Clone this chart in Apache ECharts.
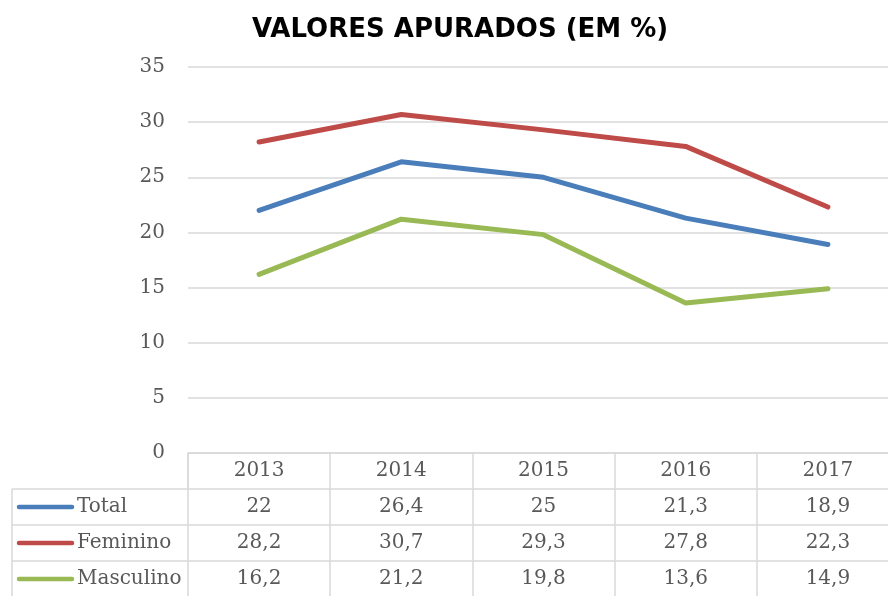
<!DOCTYPE html>
<html>
<head>
<meta charset="utf-8">
<script src="https://cdn.jsdelivr.net/npm/echarts@6/dist/echarts.min.js"></script>
<style>
  html, body { margin: 0; padding: 0; background: #fff; }
  #chart { width: 888px; height: 596px; }
</style>
</head>
<body>
<div id="chart"></div>
<script>
var years = ['2013', '2014', '2015', '2016', '2017'];
var seriesNames = ['Total', 'Feminino', 'Masculino'];
var total = [22, 26.4, 25, 21.3, 18.9];
var feminino = [28.2, 30.7, 29.3, 27.8, 22.3];
var masculino = [16.2, 21.2, 19.8, 13.6, 14.9];
var colors = ['#4a7ebb', '#be4b48', '#98b954'];

var serif = '"DejaVu Serif", "Liberation Serif", serif';
var gridColor = '#d9d9d9';
var textColor = '#595959';
var rowH = 36;

function fmt(v) {
  return String(v).replace('.', ',');
}

var chart = echarts.init(document.getElementById('chart'));
var allData = [total, feminino, masculino];

chart.setOption({
  animation: false,
  title: {
    text: 'VALORES APURADOS (EM %)',
    left: 247,
    top: 12,
    textStyle: {
      fontFamily: '"DejaVu Sans", sans-serif',
      fontWeight: 'bold',
      fontSize: 26,
      color: '#000'
    }
  },
  grid: {
    left: 188,
    width: 711,
    top: 67,
    bottom: 143,
    outerBoundsMode: 'none'
  },
  xAxis: {
    type: 'category',
    data: years,
    boundaryGap: true,
    axisLine: { lineStyle: { color: gridColor, width: 1.5 } },
    axisTick: { show: true, length: 143, lineStyle: { color: gridColor, width: 1.5 } },
    axisLabel: { color: textColor, fontFamily: serif, fontSize: 20, margin: 8 }
  },
  yAxis: {
    type: 'value',
    min: 0,
    max: 35,
    interval: 5,
    axisLine: { show: false },
    axisTick: { show: false },
    axisLabel: { color: textColor, fontFamily: serif, fontSize: 20, margin: 23 },
    splitLine: { lineStyle: { color: gridColor, width: 1.5 } }
  },
  series: seriesNames.map(function (name, i) {
    return {
      name: name,
      type: 'line',
      data: allData[i],
      symbol: 'none',
      lineStyle: { color: colors[i], width: 5, cap: 'round', join: 'round' }
    };
  })
});

// data table below the axis
var y0 = chart.convertToPixel({ yAxisIndex: 0 }, 0);
var left = 188, tableLeft = 12, right = 888;
var graphics = [];

for (var r = 1; r <= 3; r++) {
  graphics.push({
    type: 'line',
    shape: { x1: tableLeft, y1: y0 + rowH * r, x2: right, y2: y0 + rowH * r },
    style: { stroke: gridColor, lineWidth: 1.5 },
    silent: true
  });
}
graphics.push({
  type: 'line',
  shape: { x1: tableLeft, y1: y0 + rowH, x2: tableLeft, y2: 596 },
  style: { stroke: gridColor, lineWidth: 1.5 },
  silent: true
});
graphics.push({
  type: 'line',
  shape: { x1: left, y1: y0, x2: left, y2: y0 + rowH },
  style: { stroke: gridColor, lineWidth: 1.5 },
  silent: true
});

seriesNames.forEach(function (name, i) {
  var cy = y0 + rowH * (i + 1) + rowH / 2;
  graphics.push({
    type: 'line',
    shape: { x1: 19, y1: cy, x2: 72, y2: cy },
    style: { stroke: colors[i], lineWidth: 4.5, lineCap: 'round' },
    silent: true
  });
  graphics.push({
    type: 'text',
    x: 77, y: cy,
    style: {
      text: name, fill: textColor, font: '20px ' + serif,
      textAlign: 'left', textVerticalAlign: 'middle'
    },
    silent: true
  });
  allData[i].forEach(function (v, j) {
    var cx = chart.convertToPixel({ xAxisIndex: 0 }, years[j]);
    graphics.push({
      type: 'text',
      x: cx, y: cy,
      style: {
        text: fmt(v), fill: textColor, font: '20px ' + serif,
        textAlign: 'center', textVerticalAlign: 'middle'
      },
      silent: true
    });
  });
});

chart.setOption({ graphic: graphics });
</script>
</body>
</html>
